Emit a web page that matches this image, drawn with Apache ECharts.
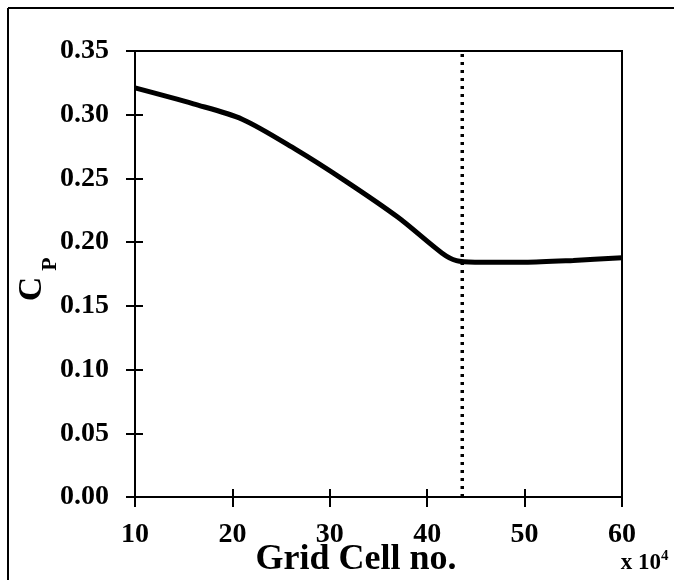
<!DOCTYPE html>
<html style="height: 100%">
<head>
	<meta charset="utf-8">
</head>
<body style="height: 100%; margin: 0; background: #fff; overflow: hidden">
<div id="container" style="width: 674px; height: 580px"></div>
<script type="text/javascript" src="https://cdn.jsdelivr.net/npm/echarts@6/dist/echarts.min.js"></script>
<script type="text/javascript">
	// grid cells (x 10^4) and power coefficient
	var cells = [10, 16, 21, 26.5, 31.5, 37, 41.5, 43, 45, 50, 55, 60];
	var cp = [0.321, 0.3085, 0.2965, 0.2728, 0.2485, 0.2195, 0.1915, 0.1855, 0.1843, 0.1842, 0.1856, 0.1878];
	// chosen grid (dotted marker)
	var chosenCells = 43.6;
	var yRange = [0, 0.35];

	var font = '"Times New Roman", "Liberation Serif", serif';

	var lineData = [];
	for (var i = 0; i < cells.length; i++) {
		lineData.push([cells[i], cp[i]]);
	}

	var dom = document.getElementById("container");
	var myChart = echarts.init(dom);

	var axisLabelStyle = {
		fontFamily: font,
		fontWeight: 'bold',
		fontSize: 28,
		color: '#000'
	};

	// axis lines come from the grid border; the axes are shifted inward
	// so their outward ticks cross the frame
	var option = {
		animation: false,
		backgroundColor: '#fff',
		grid: {
			left: 135,
			right: 52,
			top: 51,
			bottom: 83,
			show: true,
			borderColor: '#000',
			borderWidth: 2
		},
		xAxis: {
			type: 'value',
			min: 10,
			max: 60,
			interval: 10,
			offset: -8,
			axisLine: {show: false, onZero: false},
			axisTick: {show: true, length: 18, lineStyle: {color: '#000', width: 2}},
			axisLabel: Object.assign({margin: 32}, axisLabelStyle),
			splitLine: {show: false}
		},
		yAxis: {
			type: 'value',
			min: yRange[0],
			max: yRange[1],
			interval: 0.05,
			offset: -8,
			axisLine: {show: false, onZero: false},
			axisTick: {show: true, length: 17, lineStyle: {color: '#000', width: 2}},
			axisLabel: Object.assign({
				margin: 34,
				formatter: function (v) { return v.toFixed(2); }
			}, axisLabelStyle),
			splitLine: {show: false}
		},
		series: [
			{
				type: 'line',
				data: lineData,
				smooth: 0.3,
				showSymbol: false,
				lineStyle: {color: '#000', width: 5}
			},
			{
				type: 'line',
				data: [[chosenCells, yRange[0]], [chosenCells, yRange[1]]],
				showSymbol: false,
				lineStyle: {color: '#000', width: 3.5, type: [3, 5]}
			}
		],
		graphic: [
			{
				type: 'line',
				silent: true,
				shape: {x1: 8, y1: 8, x2: 700, y2: 8},
				style: {stroke: '#000', lineWidth: 2}
			},
			{
				type: 'line',
				silent: true,
				shape: {x1: 8, y1: 8, x2: 8, y2: 600},
				style: {stroke: '#000', lineWidth: 2}
			},
			{
				type: 'text',
				x: 356,
				y: 560,
				style: {
					text: 'Grid Cell no.',
					font: 'bold 36px ' + font,
					fill: '#000',
					align: 'center',
					verticalAlign: 'middle'
				}
			},
			{
				type: 'text',
				x: 32,
				y: 289,
				rotation: Math.PI / 2,
				style: {
					text: 'C',
					font: 'bold 34px ' + font,
					fill: '#000',
					align: 'center',
					verticalAlign: 'middle'
				}
			},
			{
				type: 'text',
				x: 50,
				y: 264,
				rotation: Math.PI / 2,
				style: {
					text: 'P',
					font: 'bold 22px ' + font,
					fill: '#000',
					align: 'center',
					verticalAlign: 'middle'
				}
			},
			{
				type: 'text',
				x: 661,
				y: 563,
				style: {
					text: 'x 10',
					font: 'bold 23px ' + font,
					fill: '#000',
					align: 'right',
					verticalAlign: 'middle'
				}
			},
			{
				type: 'text',
				x: 661,
				y: 556,
				style: {
					text: '4',
					font: 'bold 15px ' + font,
					fill: '#000',
					align: 'left',
					verticalAlign: 'middle'
				}
			}
		]
	};

	myChart.setOption(option, true);
</script>
</body>
</html>
